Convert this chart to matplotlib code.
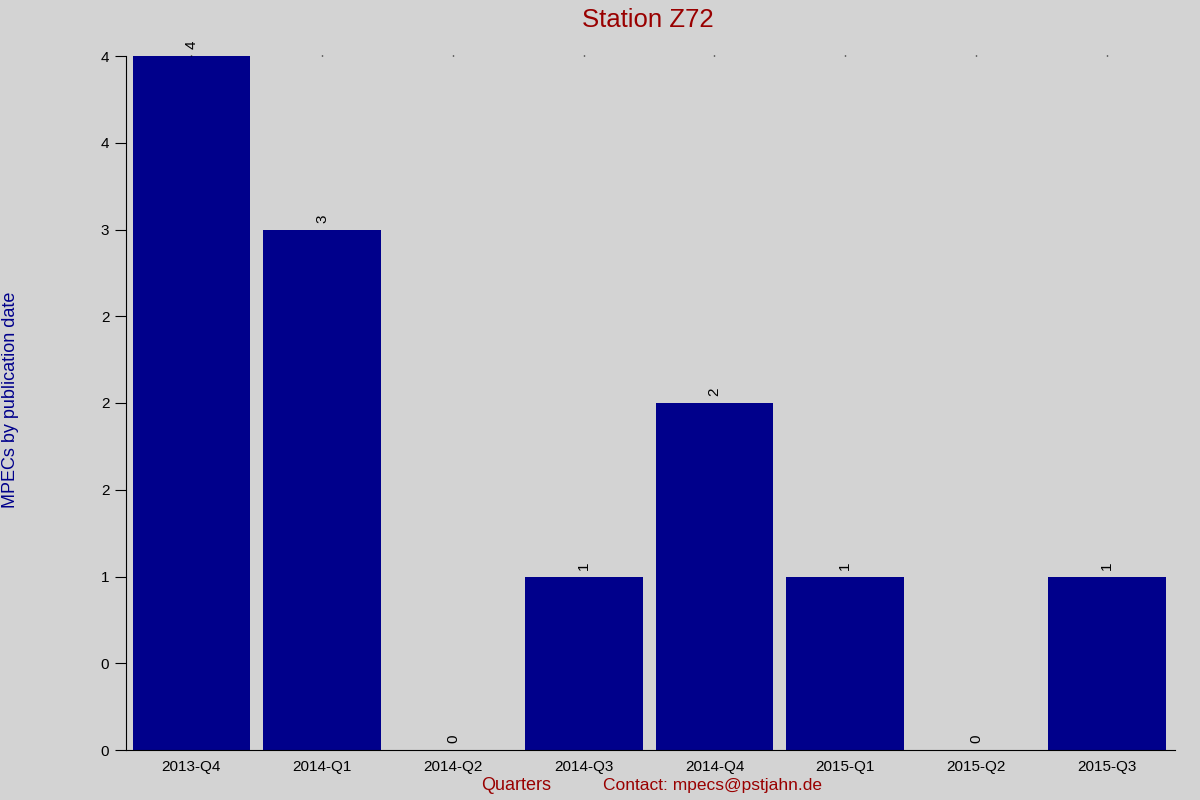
import matplotlib
matplotlib.use("Agg")
import matplotlib.pyplot as plt
from matplotlib.ticker import FormatStrFormatter

quarters = ['2013-Q4', '2014-Q1', '2014-Q2', '2014-Q3', '2014-Q4', '2015-Q1', '2015-Q2', '2015-Q3']
mpecs = [4, 3, 0, 1, 2, 1, 0, 1]

plt.rcParams['font.family'] = ['Liberation Sans', 'DejaVu Sans']

fig = plt.figure(figsize=(12, 8), dpi=100, facecolor='#d3d3d3')
ax = fig.add_axes([0.105, 0.0625, 0.874, 0.8675])
ax.set_facecolor('#d3d3d3')

x = range(len(quarters))
ax.bar(x, mpecs, width=0.9, color='#00008b')
for i, v in enumerate(mpecs):
    ax.text(i, v + 0.04, str(v), rotation=90, ha='center', va='bottom', fontsize=11)

ax.set_xlim(-0.5, 7.52)
ax.set_ylim(0, 4)
ax.set_yticks([0, 0.5, 1, 1.5, 2, 2.5, 3, 3.5, 4])
ax.yaxis.set_major_formatter(FormatStrFormatter('%.0f'))
ax.set_xticks(list(x))
ax.set_xticklabels(quarters)

ax.spines['top'].set_visible(False)
ax.spines['right'].set_visible(False)
ax.tick_params(axis='y', length=8, labelsize=11, pad=4)
ax.tick_params(axis='x', bottom=False, top=True, length=1, width=1, labelsize=11, pad=6)

fig.text(0.54, 0.966, 'Station Z72', color='#990000', fontsize=18.5, ha='center', va='baseline')
fig.text(0.002, 0.5, 'MPECs by publication date', rotation=90, color='#00008b',
         fontsize=13, ha='left', va='center')
fig.text(0.43, 0.0125, 'Quarters', color='#990000', fontsize=13, ha='center', va='baseline')
fig.text(0.5025, 0.0125, 'Contact: mpecs@pstjahn.de', color='#990000', fontsize=12.5,
         ha='left', va='baseline')

fig.savefig('out.png', dpi=100, facecolor=fig.get_facecolor())
